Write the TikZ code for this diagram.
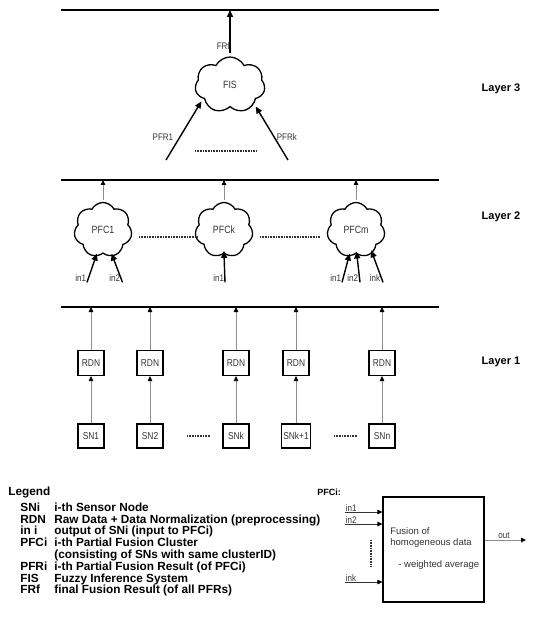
\documentclass[tikz,border=0pt]{standalone}
\usepackage{fontspec}
\setmainfont{Liberation Sans}
\newfontfamily\narrowsf[FakeStretch=0.84]{Liberation Sans}
\usepackage{xcolor}
\definecolor{ink}{HTML}{333333}
\definecolor{wire}{HTML}{8C8C8C}
\usetikzlibrary{arrows.meta,calc,shapes.symbols}
\tikzset{
  every picture/.style={line width=0.8pt},
  bus/.style={draw=black, line width=1.6pt},
  box/.style={draw=black, line width=1.1pt, minimum width=26pt, minimum height=25pt, inner sep=2pt, font=\narrowsf\fontsize{10}{10}\selectfont, text=ink},
  puff/.style={cloud, cloud puffs=7, cloud puff arc=125, cloud ignores aspect, draw=black, line width=1.3pt, font=\narrowsf\fontsize{10.5}{10}\selectfont, text=ink, inner sep=0pt},
  lbl/.style={font=\narrowsf\fontsize{9.5}{10}\selectfont, text=ink, inner sep=0.5pt},
  thinarrow/.style={draw=wire, line width=0.8pt, -{Triangle[length=5pt, width=4.5pt, color=black]}},
  fatarrow/.style={draw=black, line width=1.4pt, -{Triangle[length=7pt, width=6pt]}},
  dots/.style={draw=ink, line width=1.3pt, dash pattern=on 0.8pt off 0.8pt},
  layer/.style={font=\bfseries\fontsize{11}{12}\selectfont, anchor=west},
  legend/.style={font=\bfseries\fontsize{11.8}{12}\selectfont, anchor=base west, inner sep=0pt},
}
\begin{document}
\begin{tikzpicture}[x=1pt, y=-1pt]
  \useasboundingbox (0,0) rectangle (540,617);
  % the three buses
  \coordinate (bus3w) at (61,10);  \coordinate (bus3e) at (439,10);
  \coordinate (bus2w) at (61,180); \coordinate (bus2e) at (439,180);
  \coordinate (bus1w) at (61,307); \coordinate (bus1e) at (439,307);
  \draw[bus] (bus3w) -- (bus3e);
  \draw[bus] (bus2w) -- (bus2e);
  \draw[bus] (bus1w) -- (bus1e);
  \node[layer] (lay3) at (478,89) {Layer 3};
  \node[layer] (lay2) at (478,217) {Layer 2};
  \node[layer] (lay1) at (478,362) {Layer 1};

  % layer 3
  \node[puff, minimum width=70pt, minimum height=56pt] (fis) at (230,85) {FIS};
  \draw[fatarrow, shorten <=3pt] (fis.north) -- (fis.north |- bus3w);
  \node[lbl, anchor=east] (frf) at (230.5,46) {FRf};
  \coordinate (pfr1) at (166,160);
  \coordinate (pfrk) at (288,160);
  \draw[fatarrow, shorten >=3pt] (pfr1) -- (fis.207);
  \draw[fatarrow, shorten >=3pt] (pfrk) -- (fis.322);
  \node[lbl, anchor=east] (pfr1lbl) at (174,137) {PFR1};
  \node[lbl, anchor=west] (pfrklbl) at (276,137) {PFRk};
  \draw[dots] (195,151) -- (256,151);

  % layer 2
  \foreach \x/\n in {103/1,224/k,356/m} {
    \node[puff, minimum width=58pt, minimum height=55pt] (pfc\n) at (\x,230) {PFC\n};
    \draw[thinarrow, shorten <=2pt] (pfc\n.north) -- (pfc\n.north |- bus2w);
  }
  \draw[dots] (139,237) -- (197,237);
  \draw[dots] (260,237) -- (320,237);
  \node[lbl, anchor=east] (in11) at (87,278) {in1};
  \node[lbl, anchor=east] (in12) at (121,278) {in2};
  \node[lbl, anchor=east] (ink1) at (225,278) {in1};
  \node[lbl, anchor=east] (inm1) at (342,278) {in1};
  \node[lbl, anchor=east] (inm2) at (359,278) {in2};
  \node[lbl, anchor=east] (inmk) at (381,278) {ink};
  \draw[fatarrow, shorten >=-3pt] (in11.south east) -- (pfc1.255);
  \draw[fatarrow, shorten >=-3pt] ([xshift=1.5pt]in12.south east) -- (pfc1.290);
  \draw[fatarrow, shorten >=-3pt] (ink1.south east) -- (pfck.270);
  \draw[fatarrow, shorten >=-3pt] (inm1.south east) -- (pfcm.255);
  \draw[fatarrow, shorten >=-3pt] ([xshift=1pt]inm2.south east) -- (pfcm.272);
  \draw[fatarrow, shorten >=-3pt] ([xshift=2pt]inmk.south east) -- (pfcm.305);

  % layer 1
  \foreach \x/\n [count=\i] in {91/SN1,150/SN2,236/SNk,296/SNk+1,382/SNn} {
    \node[box] (rdn\i) at (\x,363) {RDN};
    \node[box, minimum height=24pt] (sn\i) at (\x,436) {\n};
    \draw[thinarrow] (sn\i) -- (rdn\i);
    \draw[thinarrow] (rdn\i) -- (rdn\i |- bus1w);
  }
  \draw[dots] (187,436) -- (210,436);
  \draw[dots] (334,436) -- (357,436);

  % legend
  \node[legend] (leg) at (8,495) {Legend};
  \foreach \k/\t [count=\i] in {SNi/i-th Sensor Node,
      RDN/Raw Data + Data Normalization (preprocessing),
      in i/output of SNi (input to PFCi),
      PFCi/i-th Partial Fusion Cluster,
      /(consisting of SNs with same clusterID),
      PFRi/i-th Partial Fusion Result (of PFCi),
      FIS/Fuzzy Inference System,
      FRf/final Fusion Result (of all PFRs)} {
    \node[legend] (key\i) at (20,{499.4+11.8*\i}) {\k};
    \node[legend] (txt\i) at (54,{499.4+11.8*\i}) {\t};
  }

  % inside of a PFC
  \node[legend, font=\bfseries\fontsize{9}{10}\selectfont] (pfcihead) at (317,495) {PFCi:};
  \node[draw=black, line width=1.1pt, minimum width=101pt, minimum height=105pt, inner sep=0pt] (fusion) at (433.5,549.5) {};
  \node[anchor=north west, align=left, inner sep=0pt, font=\fontsize{9.5}{11}\selectfont, text=ink] (fustxt) at (390,527) {Fusion of\\homogeneous data};
  \node[anchor=west, inner sep=0pt, font=\fontsize{9.5}{11}\selectfont, text=ink] (avg) at (398,565) {- weighted average};
  \foreach \y/\n in {512/in1,524/in2,582/ink} {
    \coordinate (f\n) at (345,\y);
    \node[lbl, anchor=south west] at (f\n) {\n};
    \draw[thinarrow, draw=ink] (f\n) -- (f\n -| fusion.west);
  }
  \draw[dots] (371,540) -- (371,566);
  \coordinate (fout) at (526,540);
  \draw[thinarrow] (fusion.east |- fout) -- (fout);
  \node[lbl, anchor=south] (outlbl) at (504,539) {out};
\end{tikzpicture}
\end{document}
